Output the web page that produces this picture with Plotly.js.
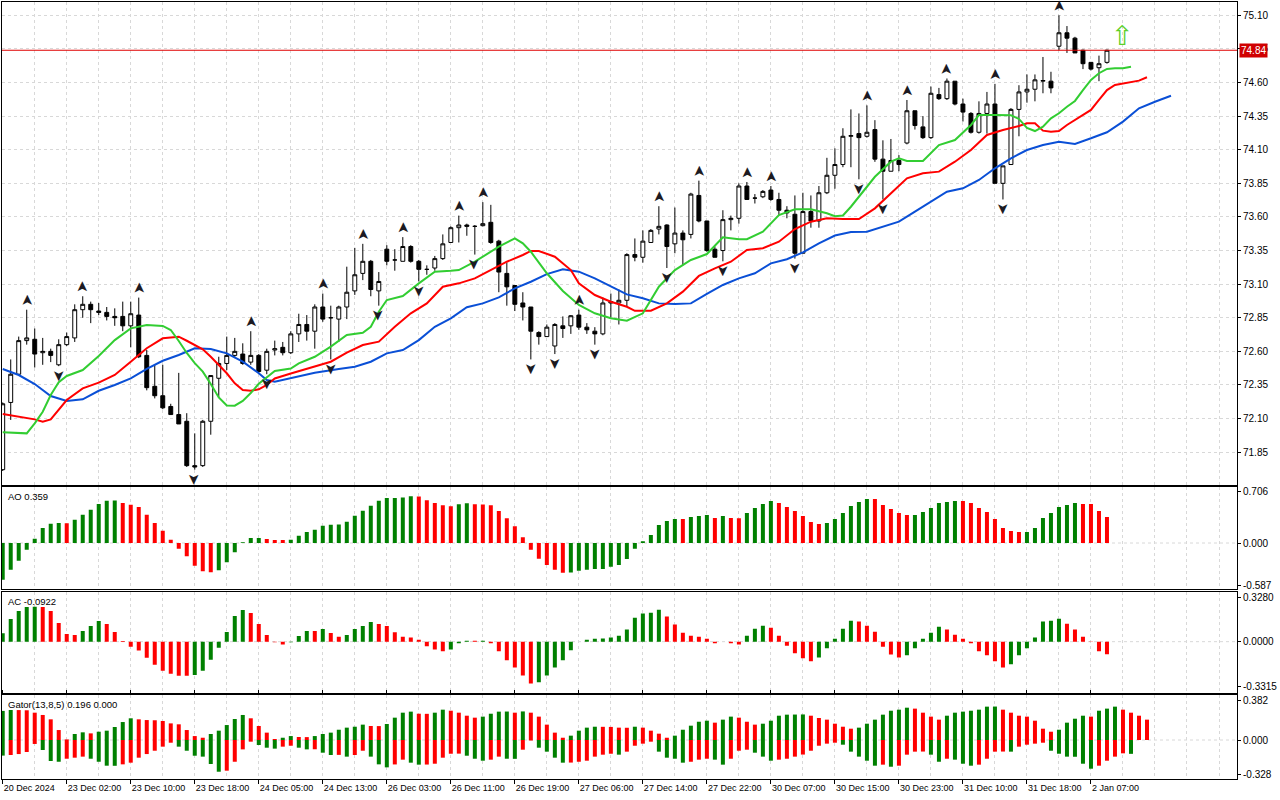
<!DOCTYPE html>
<html>
<head>
<meta charset="utf-8">
<script src="https://cdn.plot.ly/plotly-3.0.1.min.js"></script>
<style>
  html, body { margin: 0; padding: 0; background: #fff; }
  #chart { width: 1280px; height: 800px; }
</style>
</head>
<body>
<div id="chart"></div>
<script>
// H1 candles, bar 0 = first bar on screen
const opens = [71.72,72.22,72.43,72.68,72.69,72.59,72.60,72.50,72.65,72.70,
72.91,72.95,72.90,72.89,72.86,72.86,72.79,72.87,72.57,72.34,
72.27,72.19,72.13,72.08,71.75,71.75,72.08,72.40,72.51,72.57,
72.58,72.52,72.57,72.46,72.61,72.63,72.59,72.73,72.80,72.75,
72.93,72.85,72.84,72.93,73.05,73.18,73.27,73.05,73.36,73.28,
73.27,73.38,73.27,73.21,73.22,73.29,73.41,73.52,73.54,73.53,
73.535,73.56,73.42,73.18,73.09,72.96,72.93,72.74,72.71,72.64,
72.79,72.79,72.87,72.78,72.75,72.73,72.96,72.96,72.98,73.32,
73.30,73.41,73.51,73.54,73.40,73.48,73.47,73.76,73.57,73.36,
73.35,73.58,73.59,73.83,73.74,73.75,73.80,73.73,73.65,73.62,
73.33,73.64,73.57,73.78,73.91,73.99,74.20,74.22,74.20,74.25,
74.03,73.94,74.02,74.15,74.39,74.27,74.19,74.51,74.48,74.61,
74.44,74.37,74.23,74.37,74.44,73.85,73.99,74.40,74.53,74.55,
74.61,74.61,74.87,74.97,74.93,74.84,74.75,74.71,74.75];
const highs = [72.22,72.54,72.71,72.91,72.77,72.70,72.62,72.69,72.74,72.95,
73.01,72.97,72.96,72.93,72.92,72.97,72.97,73.00,72.61,72.50,
72.50,72.21,72.44,72.14,71.99,72.09,72.42,72.56,72.71,72.70,
72.66,72.75,72.58,72.62,72.68,72.67,72.75,72.88,72.87,72.95,
73.03,72.94,72.94,73.23,73.37,73.40,73.28,73.19,73.39,73.36,
73.45,73.39,73.28,73.24,73.31,73.47,73.53,73.61,73.55,73.54,
73.71,73.69,73.43,73.26,73.09,73.04,72.93,72.75,72.80,72.81,
72.86,72.87,72.91,72.81,72.78,73.00,73.03,73.06,73.33,73.44,
73.50,73.51,73.68,73.545,73.67,73.50,73.78,73.87,73.57,73.38,
73.65,73.61,73.85,73.86,73.77,73.80,73.83,73.78,73.68,73.76,
73.78,73.76,73.83,74.04,74.11,74.26,74.40,74.37,74.43,74.32,
74.17,74.18,74.06,74.47,74.39,74.35,74.57,74.56,74.63,74.61,
74.48,74.38,74.46,74.53,74.59,73.98,74.41,74.58,74.66,74.66,
74.79,74.68,75.10,75.02,74.94,74.845,74.75,74.80,74.845];
const lows = [71.71,72.09,72.42,72.65,72.48,72.50,72.52,72.49,72.64,72.67,
72.85,72.81,72.87,72.83,72.79,72.75,72.63,72.55,72.31,72.25,
72.17,72.13,72.06,71.74,71.72,71.74,71.98,72.26,72.46,72.55,
72.50,72.50,72.44,72.43,72.57,72.57,72.58,72.67,72.68,72.62,
72.82,72.54,72.67,72.84,73.02,73.13,73.01,72.94,73.24,73.20,
73.27,73.26,73.12,73.17,73.20,73.28,73.41,73.41,73.46,73.32,
73.53,73.40,73.04,72.94,72.90,72.83,72.54,72.65,72.71,72.58,
72.70,72.73,72.76,72.73,72.65,72.72,72.85,72.80,72.93,73.27,
73.26,73.41,73.47,73.22,73.33,73.24,73.44,73.56,73.34,73.30,
73.27,73.50,73.55,73.73,73.70,73.74,73.72,73.61,73.59,73.29,
73.33,73.52,73.52,73.77,73.81,73.97,73.97,73.88,74.19,74.01,
73.73,73.94,73.94,74.14,74.25,74.18,74.18,74.47,74.47,74.43,
74.31,74.22,74.22,74.22,73.85,73.73,73.99,74.20,74.45,74.46,
74.52,74.52,74.84,74.82,74.82,74.70,74.69,74.61,74.74];
const closes = [72.21,72.43,72.68,72.70,72.58,72.60,72.57,72.65,72.71,72.91,
72.95,72.91,72.89,72.86,72.85,72.79,72.88,72.56,72.33,72.27,
72.18,72.13,72.06,71.75,71.74,72.08,72.42,72.51,72.57,72.60,
72.51,72.57,72.45,72.60,72.62,72.59,72.73,72.80,72.75,72.93,
72.84,72.85,72.93,73.04,73.17,73.27,73.06,73.12,73.27,73.28,
73.38,73.27,73.21,73.21,73.29,73.40,73.52,73.54,73.53,73.53,
73.55,73.41,73.19,73.08,72.95,72.93,72.75,72.71,72.78,72.80,
72.77,72.865,72.78,72.76,72.73,72.96,72.97,72.98,73.32,73.30,
73.42,73.50,73.53,73.38,73.48,73.43,73.77,73.57,73.35,73.30,
73.58,73.59,73.83,73.73,73.74,73.79,73.73,73.65,73.63,73.33,
73.64,73.57,73.78,73.91,73.99,74.20,74.205,74.19,74.23,74.03,
73.94,74.02,73.99,74.39,74.28,74.19,74.52,74.48,74.61,74.44,
74.38,74.23,74.37,74.44,73.85,73.98,74.40,74.53,74.55,74.62,
74.615,74.56,74.97,74.93,74.82,74.74,74.70,74.74,74.84];

// Alligator (already shifted forward)
const jawBars = [0,2,4,6,8,10,12,14,16,18,20,22,24,26,28,30,32,33,34,36,39,42,44,46,48,50,52,54,56,58,60,62,64,66,68,70,72,74,76,78,80,82,84,86,88,90,92,94,96,98,100,102,104,106,108,110,112,114,116,118,120,122,124,126,128,130,132,134,136,138,140,142,144,146];
const jawVals = [72.469,72.424,72.357,72.268,72.231,72.243,72.307,72.350,72.399,72.469,72.530,72.573,72.623,72.617,72.585,72.523,72.437,72.387,72.374,72.399,72.441,72.469,72.486,72.523,72.585,72.610,72.684,72.783,72.846,72.928,72.957,73.002,73.069,73.118,73.175,73.210,73.193,73.143,73.081,73.024,72.995,72.957,72.952,72.957,73.027,73.094,73.143,73.181,73.255,73.285,73.337,73.404,73.462,73.488,73.490,73.527,73.565,73.639,73.713,73.788,73.813,73.875,73.962,74.036,74.098,74.135,74.160,74.143,74.185,74.230,74.309,74.408,74.457,74.502];
const teethBars = [0,2,4,5,6,8,10,12,14,16,18,20,22,23,25,26,27,28,29,30,31,32,33,34,36,39,41,43,45,47,49,51,53,55,57,59,61,63,65,66,67,69,71,72,74,76,78,79,81,83,85,87,89,91,93,95,97,99,101,103,105,107,109,111,113,115,117,119,121,123,125,127,128,129,130,131,132,133,134,136,137,138,139,140,142,143];
const teethVals = [72.134,72.114,72.094,72.077,72.094,72.238,72.325,72.367,72.424,72.523,72.623,72.697,72.709,72.679,72.615,72.560,72.498,72.437,72.362,72.312,72.307,72.318,72.350,72.398,72.435,72.486,72.523,72.590,72.647,72.672,72.783,72.883,72.957,73.081,73.106,73.143,73.205,73.267,73.317,73.347,73.347,73.304,73.205,73.106,73.019,72.969,72.932,72.902,72.902,72.957,73.044,73.161,73.218,73.267,73.354,73.367,73.416,73.510,73.565,73.590,73.585,73.585,73.664,73.776,73.887,73.925,73.937,74.011,74.098,74.210,74.247,74.277,74.297,74.297,74.242,74.234,74.239,74.284,74.321,74.396,74.470,74.544,74.582,74.594,74.614,74.639];
const lipsBars = [0,2,3,4,5,6,7,8,10,12,14,16,18,20,21,22,23,24,25,26,27,28,29,30,31,32,33,34,36,37,39,41,43,45,46,47,48,50,52,54,56,57,59,61,62,64,65,66,68,70,72,74,76,78,80,82,84,86,88,90,92,93,95,97,99,101,103,104,105,106,107,109,111,112,113,115,117,119,121,122,124,125,126,127,128,129,130,131,132,133,134,135,136,137,138,139,140,141];
const lipsVals = [71.998,71.990,71.990,72.065,72.151,72.275,72.370,72.417,72.461,72.565,72.684,72.771,72.796,72.789,72.759,72.677,72.588,72.513,72.449,72.357,72.257,72.197,72.196,72.231,72.290,72.359,72.405,72.454,72.472,72.511,72.560,72.635,72.722,72.739,72.783,72.895,72.982,73.012,73.106,73.193,73.200,73.205,73.267,73.341,73.379,73.441,73.404,73.341,73.181,73.049,72.945,72.883,72.846,72.828,72.883,73.081,73.205,73.280,73.324,73.448,73.434,73.434,73.490,73.614,73.657,73.657,73.627,73.605,73.611,73.676,73.748,73.899,74.011,74.036,74.016,74.016,74.135,74.172,74.284,74.358,74.358,74.358,74.356,74.329,74.262,74.239,74.271,74.334,74.371,74.420,74.463,74.544,74.619,74.669,74.701,74.706,74.706,74.718];

// Bill Williams fractals (bar indices)
const fractalUpBars = [3,10,17,31,40,45,50,57,60,72,82,87,93,96,108,113,118,124,132];
const fractalDownBars = [7,24,33,41,47,52,59,66,69,74,83,90,99,107,110,125];
const signalBars = [140];
const signalPrices = [74.95];

const aoVals = [-0.504,-0.367,-0.243,-0.092,0.060,0.206,0.266,0.275,0.272,0.321,
0.390,0.459,0.536,0.582,0.584,0.550,0.527,0.495,0.390,0.275,
0.170,0.046,-0.078,-0.183,-0.312,-0.390,-0.403,-0.376,-0.266,-0.128,
0.009,0.069,0.070,0.055,0.041,0.040,0.046,0.101,0.151,0.183,
0.238,0.252,0.254,0.293,0.376,0.445,0.514,0.582,0.619,0.620,
0.625,0.642,0.640,0.587,0.550,0.518,0.504,0.532,0.546,0.532,
0.530,0.518,0.440,0.339,0.229,0.078,-0.092,-0.215,-0.303,-0.367,
-0.408,-0.407,-0.381,-0.367,-0.358,-0.357,-0.326,-0.303,-0.220,-0.078,
0.023,0.110,0.248,0.303,0.330,0.329,0.358,0.371,0.385,0.344,
0.371,0.344,0.342,0.413,0.481,0.536,0.578,0.550,0.495,0.440,
0.371,0.289,0.261,0.275,0.330,0.413,0.509,0.564,0.605,0.604,
0.523,0.468,0.413,0.385,0.386,0.426,0.481,0.550,0.564,0.578,
0.577,0.550,0.481,0.426,0.330,0.206,0.165,0.151,0.153,0.206,
0.344,0.413,0.495,0.523,0.550,0.536,0.535,0.440,0.359];
const acVals = [0.062,0.167,0.226,0.256,0.258,0.255,0.226,0.138,0.057,0.049,
0.079,0.116,0.153,0.130,0.071,0.005,-0.037,-0.066,-0.118,-0.170,
-0.214,-0.236,-0.251,-0.252,-0.246,-0.214,-0.133,-0.044,0.071,0.190,
0.234,0.212,0.130,0.049,-0.005,-0.020,-0.005,0.042,0.079,0.078,
0.094,0.064,0.037,0.049,0.094,0.116,0.145,0.130,0.116,0.069,
0.037,0.030,0.015,-0.034,-0.057,-0.071,-0.057,-0.012,0.007,0.006,
0.007,-0.012,-0.071,-0.138,-0.190,-0.249,-0.308,-0.300,-0.249,-0.190,
-0.138,-0.064,0.000,0.015,0.022,0.023,0.030,0.044,0.089,0.177,
0.207,0.214,0.236,0.185,0.126,0.066,0.044,0.037,0.022,-0.012,
0.000,-0.012,-0.020,0.044,0.096,0.118,0.103,0.044,-0.030,-0.086,
-0.123,-0.145,-0.116,-0.049,0.022,0.096,0.155,0.148,0.118,0.074,
-0.037,-0.094,-0.116,-0.101,-0.049,0.022,0.066,0.111,0.089,0.052,
0.022,-0.012,-0.071,-0.101,-0.145,-0.190,-0.167,-0.101,-0.049,0.030,
0.148,0.155,0.170,0.133,0.089,0.037,-0.002,-0.071,-0.0922];
const gatorUp = [0.280,0.289,0.288,0.286,0.263,0.241,0.199,0.096,0.006,0.058,
0.074,0.064,0.080,0.090,0.125,0.173,0.209,0.199,0.192,0.190,
0.183,0.160,0.151,0.096,0.038,0.022,0.058,0.090,0.144,0.202,
0.241,0.209,0.135,0.071,0.010,0.022,0.038,0.029,0.028,0.038,
0.058,0.071,0.099,0.119,0.128,0.148,0.135,0.134,0.154,0.215,
0.263,0.273,0.253,0.252,0.263,0.292,0.282,0.263,0.234,0.215,
0.225,0.253,0.273,0.274,0.263,0.275,0.263,0.225,0.148,0.071,
0.022,0.042,0.090,0.119,0.128,0.127,0.126,0.119,0.118,0.128,
0.119,0.090,0.061,0.022,0.042,0.099,0.138,0.176,0.186,0.167,
0.196,0.225,0.215,0.176,0.148,0.157,0.186,0.234,0.244,0.245,
0.246,0.234,0.212,0.196,0.157,0.128,0.109,0.119,0.157,0.196,
0.244,0.282,0.292,0.311,0.302,0.263,0.225,0.196,0.234,0.263,
0.273,0.282,0.292,0.321,0.322,0.292,0.263,0.234,0.225,0.186,
0.109,0.080,0.099,0.167,0.205,0.234,0.225,0.282,0.302,0.321,
0.292,0.263,0.234,0.196];
const gatorDown = [-0.150,-0.144,-0.135,-0.115,-0.038,-0.096,-0.202,-0.209,-0.180,-0.170,
-0.160,-0.180,-0.209,-0.247,-0.248,-0.234,-0.218,-0.170,-0.135,-0.103,
-0.064,-0.026,-0.064,-0.103,-0.151,-0.160,-0.231,-0.305,-0.295,-0.209,
-0.090,-0.016,-0.048,-0.074,-0.083,-0.064,-0.055,-0.074,-0.090,-0.089,
-0.122,-0.144,-0.143,-0.160,-0.144,-0.103,-0.160,-0.234,-0.263,-0.235,
-0.189,-0.218,-0.237,-0.236,-0.228,-0.170,-0.132,-0.131,-0.151,-0.180,
-0.199,-0.189,-0.160,-0.180,-0.181,-0.093,-0.005,-0.074,-0.112,-0.170,
-0.218,-0.217,-0.209,-0.199,-0.160,-0.141,-0.132,-0.141,-0.112,-0.055,
-0.035,-0.016,-0.112,-0.170,-0.180,-0.218,-0.209,-0.189,-0.180,-0.189,
-0.237,-0.180,-0.103,-0.093,-0.122,-0.160,-0.199,-0.189,-0.180,-0.160,
-0.140,-0.103,-0.055,-0.035,-0.026,-0.045,-0.112,-0.160,-0.199,-0.247,
-0.237,-0.257,-0.247,-0.141,-0.112,-0.111,-0.141,-0.209,-0.180,-0.189,
-0.228,-0.247,-0.237,-0.180,-0.112,-0.111,-0.112,-0.064,-0.045,-0.035,
-0.026,-0.103,-0.132,-0.160,-0.161,-0.228,-0.276,-0.247,-0.199,-0.160,
-0.128,-0.133,0,0];

// axis labels
const timeTickBars = [0,8,16,24,32,40,48,56,64,72,80,88,96,104,112,120,128,136];
const timeTickLabels = ['20 Dec 2024','23 Dec 02:00','23 Dec 10:00','23 Dec 18:00','24 Dec 05:00','24 Dec 13:00',
  '26 Dec 03:00','26 Dec 11:00','26 Dec 19:00','27 Dec 06:00','27 Dec 14:00','27 Dec 22:00',
  '30 Dec 07:00','30 Dec 15:00','30 Dec 23:00','31 Dec 10:00','31 Dec 18:00','2 Jan 07:00'];
const priceTicks = [71.85,72.10,72.35,72.60,72.85,73.10,73.35,73.60,73.85,74.10,74.35,74.60,74.85,75.10];
const aoTicks = [0.706, 0, -0.587];
const acTicks = [0.3280, 0, -0.3315];
const gatorTicks = [0.382, 0, -0.328];

const GREEN = '#008000', RED = '#ff0000', GRID = '#d8d8d8';
const bars = opens.map((_, i) => i);
const gatorBars = gatorUp.map((_, i) => i);

// colour = rising or falling vs previous bar
function upDown(vals, useAbs) {
    return vals.map((v, i) => {
        if (i === 0) return GREEN;
        const a = useAbs ? Math.abs(v) : v;
        const b = useAbs ? Math.abs(vals[i - 1]) : vals[i - 1];
        return a >= b ? GREEN : RED;
    });
}

const traces = [
    {
        type: 'candlestick', x: bars, open: opens, high: highs, low: lows, close: closes,
        increasing: { line: { color: '#000', width: 1 }, fillcolor: '#fff' },
        decreasing: { line: { color: '#000', width: 1 }, fillcolor: '#000' },
        whiskerwidth: 0, xaxis: 'x', yaxis: 'y', hoverinfo: 'skip'
    },
    { type: 'scatter', mode: 'lines', x: jawBars, y: jawVals, line: { color: '#0a4fd6', width: 2 }, xaxis: 'x', yaxis: 'y' },
    { type: 'scatter', mode: 'lines', x: teethBars, y: teethVals, line: { color: '#ff0000', width: 2 }, xaxis: 'x', yaxis: 'y' },
    { type: 'scatter', mode: 'lines', x: lipsBars, y: lipsVals, line: { color: '#32cd32', width: 2 }, xaxis: 'x', yaxis: 'y' },
    { type: 'bar', x: bars, y: aoVals, width: 0.5, marker: { color: upDown(aoVals, false), line: { width: 0 } }, xaxis: 'x', yaxis: 'y2' },
    { type: 'bar', x: bars, y: acVals, width: 0.5, marker: { color: upDown(acVals, false), line: { width: 0 } }, xaxis: 'x', yaxis: 'y3' },
    { type: 'bar', x: gatorBars, y: gatorUp, width: 0.5, marker: { color: upDown(gatorUp, true), line: { width: 0 } }, xaxis: 'x', yaxis: 'y4' },
    { type: 'bar', x: gatorBars, y: gatorDown, width: 0.5, marker: { color: upDown(gatorDown, true), line: { width: 0 } }, xaxis: 'x', yaxis: 'y4' }
];

const tickFont = { family: 'Liberation Sans, Arial, sans-serif', size: 9, color: '#000' };
const priceFont = { family: 'Liberation Sans, Arial, sans-serif', size: 10, color: '#000' };
const lastClose = closes[closes.length - 1];

const annotations = [];
fractalUpBars.forEach(i => annotations.push({
    x: i, y: highs[i], xref: 'x', yref: 'y', text: '➤', textangle: -90, showarrow: false,
    yshift: 10, font: { family: 'DejaVu Sans', size: 15, color: '#1c1a22' }
}));
fractalDownBars.forEach(i => annotations.push({
    x: i, y: lows[i], xref: 'x', yref: 'y', text: '➤', textangle: 90, showarrow: false,
    yshift: -10, font: { family: 'DejaVu Sans', size: 15, color: '#1c1a22' }
}));
signalBars.forEach((b, k) => annotations.push({
    x: b, y: signalPrices[k], xref: 'x', yref: 'y', text: '⇧', showarrow: false,
    font: { family: 'DejaVu Sans', size: 27, color: '#5ccf2a' }
}));
// current price tag
annotations.push({
    x: 1, xref: 'paper', xanchor: 'left', xshift: 2, y: lastClose, yref: 'y',
    text: lastClose.toFixed(2), showarrow: false, bgcolor: '#d00000', borderpad: 1,
    font: { family: 'Liberation Sans, Arial, sans-serif', size: 10, color: '#fff' }
});
// indicator captions
const gLast = gatorUp.length - 1;
[['y2', 'AO ' + aoVals[aoVals.length - 1].toFixed(3)],
 ['y3', 'AC ' + acVals[acVals.length - 1].toFixed(4)],
 ['y4', 'Gator(13,8,5) ' + gatorUp[gLast].toFixed(3) + ' ' + Math.abs(gatorDown[gLast]).toFixed(3)]
].forEach(([ax, txt]) => annotations.push({
    x: 0, xref: 'paper', xanchor: 'left', xshift: 4, y: 1, yref: ax + ' domain', yanchor: 'top', yshift: -2,
    text: txt, showarrow: false, font: { family: 'Liberation Sans, Arial, sans-serif', size: 9.5, color: '#000' }
}));

const zeroLine = ax => ({
    type: 'line', xref: 'x domain', x0: 0, x1: 1, yref: ax, y0: 0, y1: 0,
    line: { color: GRID, width: 1, dash: '3px,3px' }, layer: 'below'
});

const yBase = {
    side: 'right', anchor: 'x', ticks: 'outside', ticklen: 3, tickcolor: '#000', tickfont: priceFont,
    showline: true, mirror: true, linecolor: '#000', linewidth: 1, zeroline: false, fixedrange: true,
    tickmode: 'array'
};

const layout = {
    width: 1280, height: 800,
    margin: { l: 2, r: 43, t: 2, b: 21 },
    paper_bgcolor: '#fff', plot_bgcolor: '#fff',
    showlegend: false, hovermode: false, barmode: 'overlay',
    xaxis: {
        range: [-0.09, 154.25], anchor: 'y4', rangeslider: { visible: false },
        tickmode: 'array', tickvals: timeTickBars, ticktext: timeTickLabels,
        ticks: 'outside', ticklen: 4, tickcolor: '#000', tickfont: tickFont,
        ticklabelposition: 'outside right',
        showgrid: true, gridcolor: GRID, griddash: '3px,3px', gridwidth: 1,
        minor: { dtick: 4, tick0: 0, showgrid: true, gridcolor: GRID, griddash: '3px,3px', ticks: '' },
        showline: true, mirror: 'all', linecolor: '#000', linewidth: 1, zeroline: false, fixedrange: true
    },
    yaxis: Object.assign({}, yBase, {
        domain: [0.3784, 1], range: [71.606, 75.199],
        tickvals: priceTicks, ticktext: priceTicks.map(v => v.toFixed(2)),
        showgrid: true, gridcolor: GRID, griddash: '3px,3px'
    }),
    yaxis2: Object.assign({}, yBase, {
        domain: [0.2441, 0.3754], range: [-0.637, 0.766],
        tickvals: aoTicks, ticktext: aoTicks.map(v => v.toFixed(3)), showgrid: false
    }),
    yaxis3: Object.assign({}, yBase, {
        domain: [0.1103, 0.2411], range: [-0.381, 0.369],
        tickvals: acTicks, ticktext: acTicks.map(v => v.toFixed(4)), showgrid: false
    }),
    yaxis4: Object.assign({}, yBase, {
        domain: [0, 0.1081], range: [-0.375, 0.433],
        tickvals: gatorTicks, ticktext: gatorTicks.map(v => v.toFixed(3)), showgrid: false
    }),
    shapes: [
        { type: 'line', xref: 'x domain', x0: 0, x1: 1, yref: 'y', y0: lastClose, y1: lastClose,
          line: { color: '#e00000', width: 1 } },
        zeroLine('y2'), zeroLine('y3'), zeroLine('y4')
    ],
    annotations: annotations
};

Plotly.newPlot('chart', traces, layout, { staticPlot: true, displayModeBar: false });
</script>
</body>
</html>
